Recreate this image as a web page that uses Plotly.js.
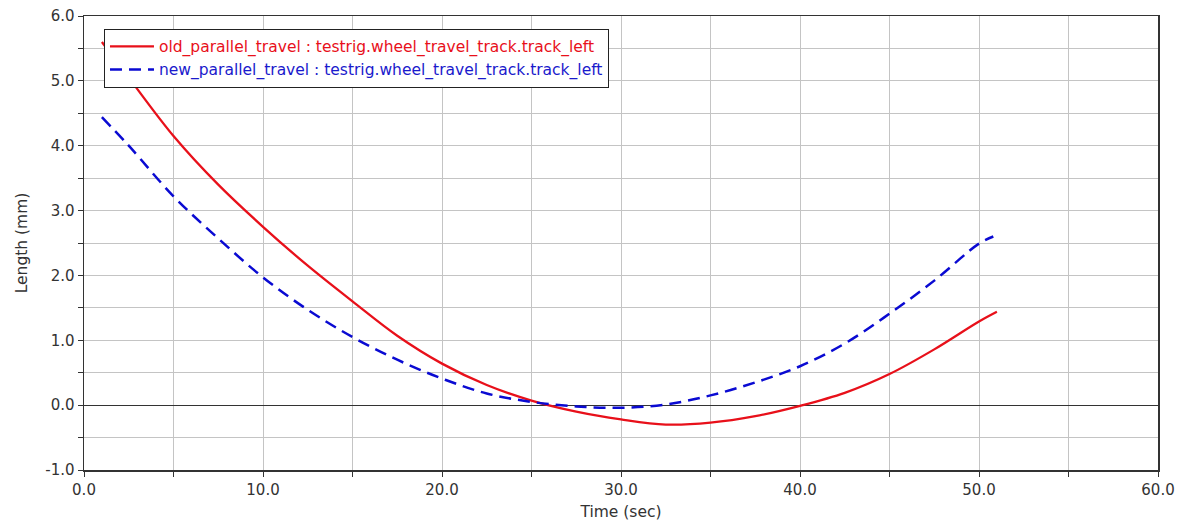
<!DOCTYPE html>
<html>
<head>
<meta charset="utf-8">
<script src="https://cdn.plot.ly/plotly-3.0.1.min.js"></script>
<style>
html,body{margin:0;padding:0;background:#fff;}
#chart{width:1184px;height:524px;}
</style>
</head>
<body>
<div id="chart"></div>
<script>
// Data
const timeSec = [1, 2.5, 5, 7.5, 10, 12.5, 15, 17.5, 20, 22.5, 25, 27.5, 30, 32.5, 35, 37.5, 40, 42.5, 45, 47.5, 50, 51];
const oldParallelTravel = [5.6, 5.05, 4.15, 3.4, 2.75, 2.15, 1.6, 1.07, 0.64, 0.31, 0.07, -0.1, -0.22, -0.3, -0.27, -0.17, -0.01, 0.19, 0.48, 0.86, 1.29, 1.44];
const timeSecNew = [1, 2.5, 5, 7.5, 10, 12.5, 15, 17.5, 20, 22.5, 25, 27.5, 30, 32.5, 35, 37.5, 40, 42.5, 45, 47.5, 50, 50.8];
const newParallelTravel = [4.44, 4.0, 3.22, 2.57, 1.97, 1.47, 1.05, 0.7, 0.41, 0.18, 0.05, -0.02, -0.04, 0.01, 0.15, 0.35, 0.6, 0.95, 1.41, 1.92, 2.49, 2.6];
const oldName = 'old_parallel_travel : testrig.wheel_travel_track.track_left';
const newName = 'new_parallel_travel : testrig.wheel_travel_track.track_left';
const xTickVals = [0, 10, 20, 30, 40, 50, 60];
const xTickText = ['0.0', '10.0', '20.0', '30.0', '40.0', '50.0', '60.0'];
const yTickVals = [-1, 0, 1, 2, 3, 4, 5, 6];
const yTickText = ['-1.0', '0.0', '1.0', '2.0', '3.0', '4.0', '5.0', '6.0'];

const FONT = 'DejaVu Sans, Liberation Sans, Arial, sans-serif';

const traces = [
  {
    x: timeSec, y: oldParallelTravel, type: 'scatter', mode: 'lines',
    name: '<span style="color:#e8101a">' + oldName + '</span>',
    line: {color: '#e8101a', width: 2.3, shape: 'spline', smoothing: 1}
  },
  {
    x: timeSecNew, y: newParallelTravel, type: 'scatter', mode: 'lines',
    name: '<span style="color:#1a1acc">' + newName + '</span>',
    line: {color: '#0a0ad2', width: 2.5, dash: '12px,7px', shape: 'spline', smoothing: 1}
  }
];

const axisCommon = {
  showline: true, mirror: true, linecolor: '#333', linewidth: 1.5,
  gridcolor: '#c4c4c4', gridwidth: 1,
  ticks: 'outside', ticklen: 5, tickcolor: '#333',
  tickfont: {family: FONT, size: 15, color: '#333'}
};

const layout = {
  width: 1184, height: 524,
  margin: {l: 84, r: 26, t: 16, b: 54},
  paper_bgcolor: '#fff', plot_bgcolor: '#fff',
  font: {family: FONT, size: 15, color: '#333'},
  showlegend: true,
  legend: {
    x: 0.0186, y: 0.972, xanchor: 'left', yanchor: 'top',
    bgcolor: '#fff', bordercolor: '#222', borderwidth: 1,
    font: {family: FONT, size: 15.5},
    tracegroupgap: 0, itemwidth: 44
  },
  xaxis: Object.assign({}, axisCommon, {
    range: [0, 60], tickvals: xTickVals, ticktext: xTickText,
    zeroline: false,
    minor: {dtick: 5, tick0: 0, ticks: 'outside', ticklen: 5, tickcolor: '#333', showgrid: true, gridcolor: '#c4c4c4'},
    title: {text: 'Time (sec)', standoff: 8, font: {family: FONT, size: 15.5, color: '#333'}}
  }),
  yaxis: Object.assign({}, axisCommon, {
    range: [-1, 6], tickvals: yTickVals, ticktext: yTickText,
    zeroline: true, zerolinecolor: '#333', zerolinewidth: 1.2,
    minor: {dtick: 0.5, tick0: 0, ticks: 'outside', ticklen: 5, tickcolor: '#333', showgrid: true, gridcolor: '#c4c4c4'},
    title: {text: 'Length (mm)', standoff: 14, font: {family: FONT, size: 15.5, color: '#333'}}
  })
};

Plotly.newPlot('chart', traces, layout, {displayModeBar: false, staticPlot: true});
</script>
</body>
</html>
